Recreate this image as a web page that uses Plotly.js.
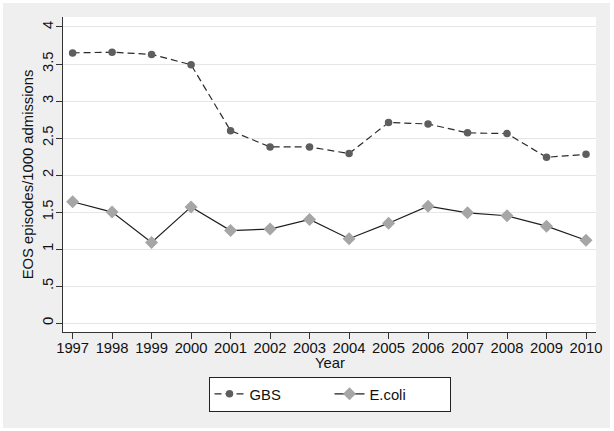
<!DOCTYPE html>
<html>
<head>
<meta charset="utf-8">
<script src="https://cdn.plot.ly/plotly-3.0.1.min.js"></script>
<style>
html,body{margin:0;padding:0;background:#ffffff;}
#chart{position:absolute;left:3px;top:3px;width:607px;height:425px;}
</style>
</head>
<body>
<div id="chart"></div>
<script>
const years = [1997,1998,1999,2000,2001,2002,2003,2004,2005,2006,2007,2008,2009,2010];
const gbs = [3.65,3.66,3.63,3.49,2.60,2.38,2.38,2.29,2.71,2.69,2.57,2.56,2.24,2.28];
const ecoli = [1.64,1.50,1.09,1.57,1.25,1.27,1.40,1.14,1.35,1.58,1.49,1.45,1.31,1.12];
const yTickVals = [0,0.5,1,1.5,2,2.5,3,3.5,4];
const yTickText = ["0",".5","1","1.5","2","2.5","3","3.5","4"];
const xTickVals = years;
const xTickText = years.map(String);
const xTitle = "Year";
const yTitle = "EOS episodes/1000 admissions";

const FS = 14.8;
const font = {family: "Liberation Sans, Arial, sans-serif", size: FS, color: "#111"};

const traces = [
  {x: years, y: gbs, name: "GBS", type: "scatter", mode: "lines+markers",
   line: {color: "#2b2b2b", width: 1.2, dash: "7px,4px"},
   marker: {symbol: "circle", size: 7.5, color: "#5e5e5e"}},
  {x: years, y: ecoli, name: "E.coli", type: "scatter", mode: "lines+markers",
   line: {color: "#1e1e1e", width: 1.2},
   marker: {symbol: "diamond", size: 10, color: "#a6a6a6"}}
];

const layout = {
  width: 607, height: 425,
  paper_bgcolor: "#efefef", plot_bgcolor: "#ffffff",
  font: font,
  margin: {l: 60, r: 14, t: 14, b: 96},
  showlegend: true,
  xaxis: {
    range: [1996.757, 2010.253], tickvals: xTickVals, ticktext: xTickText,
    showgrid: false, zeroline: false, showline: true, linecolor: "#333", linewidth: 1,
    ticks: "outside", ticklen: 6, tickcolor: "#333", tickfont: {size: FS},
    ticklabelstandoff: -4
  },
  yaxis: {
    range: [-0.12, 4.135], tickvals: yTickVals, ticktext: yTickText, tickangle: -90,
    showgrid: true, gridcolor: "#e6e6e6", gridwidth: 1, zeroline: false,
    showline: true, linecolor: "#333", linewidth: 1,
    ticks: "outside", ticklen: 6, tickcolor: "#333", tickfont: {size: FS},
    ticklabelstandoff: -3,
    title: {text: yTitle, font: {size: FS}, standoff: 2}
  },
  annotations: [
    {text: xTitle, xref: "paper", yref: "paper", x: 0.5, y: -0.097,
     xanchor: "center", yanchor: "middle", showarrow: false, font: {size: FS}}
  ],
  legend: {
    orientation: "h", x: 0.5, xanchor: "center", y: -0.142, yanchor: "top",
    bgcolor: "#ffffff", bordercolor: "#222", borderwidth: 1,
    font: {size: FS}, entrywidth: 75, entrywidthmode: "pixels"
  }
};

Plotly.newPlot("chart", traces, layout, {staticPlot: true, displayModeBar: false});
</script>
</body>
</html>
